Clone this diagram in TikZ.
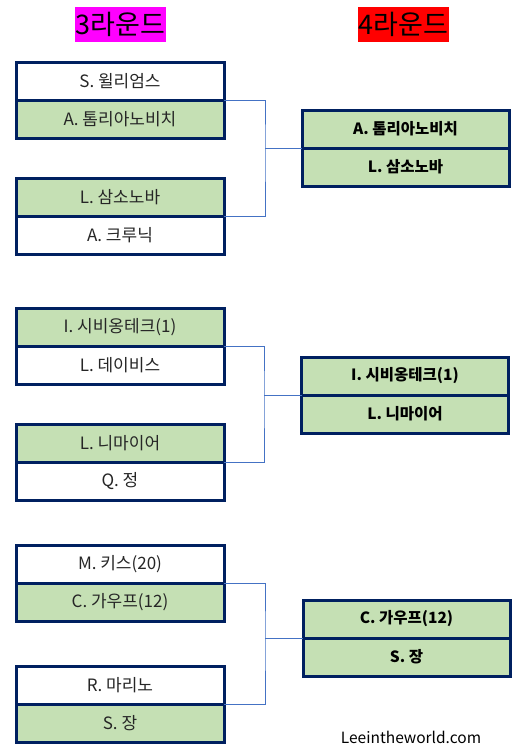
\documentclass[tikz,border=0pt]{standalone}
\usepackage{fontspec}
\setmainfont{Noto Sans CJK KR}
\usetikzlibrary{positioning}
\definecolor{navy}{RGB}{0,32,96}
\definecolor{leaf}{RGB}{197,224,180}
\definecolor{wire}{RGB}{68,114,196}
\definecolor{pinkbg}{RGB}{255,0,255}
\definecolor{redbg}{RGB}{255,0,0}

\begin{document}
\begin{tikzpicture}[x=1pt,y=-1pt,font=\fontsize{17}{20}\selectfont,
  row/.style={draw=navy,line width=3pt,minimum width=208pt,minimum height=38pt,inner sep=0pt,outer sep=0pt,text=black!85},
  win/.style={row,fill=leaf},
  lose/.style={row,fill=white},
  fin/.style={row,fill=leaf,minimum width=207pt,text=black,font=\fontsize{15.5}{18}\selectfont\bfseries},
  title/.style={inner xsep=1pt,inner ysep=0pt,minimum height=35pt,font=\fontsize{27}{30}\selectfont},
  bracket/.style={draw=wire,line width=1pt}]
\useasboundingbox (0,0) rectangle (529,755);

% round titles
\node[title,fill=pinkbg] (t3) at (120.5,24.5) {3라운드};
\node[title,fill=redbg] (t4) at (403.5,24.5) {4라운드};

% first bracket
\node[lose] (g1a1) at (120,81) {S. 윌리엄스};
\node[win,below=0pt of g1a1] (g1a2) {A. 톰리아노비치};
\node[win] (g1b1) at (120,197) {L. 삼소노바};
\node[lose,below=0pt of g1b1] (g1b2) {A. 크루닉};
\node[fin] (g1r1) at (405.5,129) {A. 톰리아노비치};
\node[fin,below=0pt of g1r1] (g1r2) {L. 삼소노바};
\coordinate (j1) at (265,0 |- g1r1.south west);
\draw[bracket] (g1a1.south east) -| (j1) |- (g1b1.south east);
\draw[bracket] (j1) -- (g1r1.south west);

% second bracket
\node[win] (g2a1) at (120,327.5) {I. 시비옹테크(1)};
\node[lose,below=0pt of g2a1] (g2a2) {L. 데이비스};
\node[win] (g2b1) at (120,443) {L. 니마이어};
\node[lose,below=0pt of g2b1] (g2b2) {Q. 정};
\node[fin] (g2r1) at (405,376) {I. 시비옹테크(1)};
\node[fin,below=0pt of g2r1] (g2r2) {L. 니마이어};
\coordinate (j2) at (264,0 |- g2r1.south west);
\draw[bracket] (g2a1.south east) -| (j2) |- (g2b1.south east);
\draw[bracket] (j2) -- (g2r1.south west);

% third bracket
\node[lose] (g3a1) at (120,564) {M. 키스(20)};
\node[win,below=0pt of g3a1] (g3a2) {C. 가우프(12)};
\node[lose] (g3b1) at (120,685) {R. 마리노};
\node[win,below=0pt of g3b1] (g3b2) {S. 장};
\node[fin] (g3r1) at (406.5,619) {C. 가우프(12)};
\node[fin,below=0pt of g3r1] (g3r2) {S. 장};
\coordinate (j3) at (265,0 |- g3r1.south west);
\draw[bracket] (g3a1.south east) -| (j3) |- (g3b1.south east);
\draw[bracket] (j3) -- (g3r1.south west);

\node (site) at (411,737) {\fontsize{15.5}{18}\selectfont Leeintheworld.com};
\end{tikzpicture}
\end{document}
